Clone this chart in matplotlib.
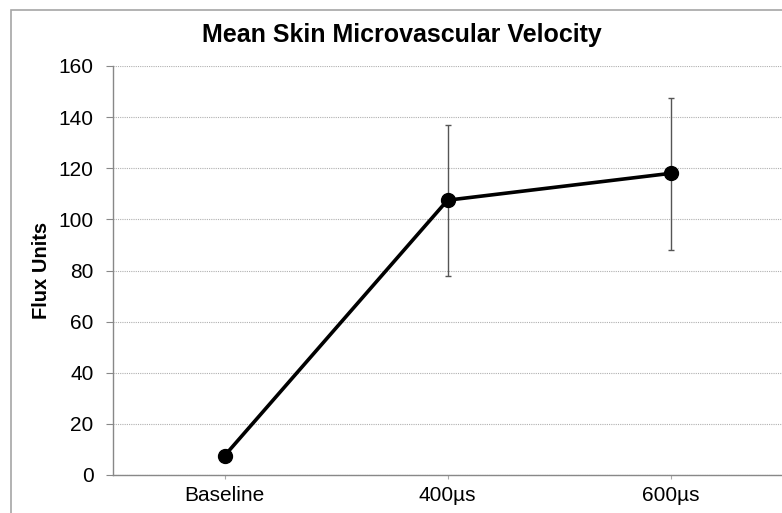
import numpy as np
import matplotlib
matplotlib.use("Agg")
import matplotlib.pyplot as plt
from matplotlib.patches import Rectangle

# data
categories = ["Baseline", "400µs", "600µs"]
flux = [7.5, 107.5, 118.0]
err_low = [0.0, 29.5, 29.8]
err_high = [0.0, 29.5, 29.5]
yticks = [0, 20, 40, 60, 80, 100, 120, 140, 160]

plt.rcParams["font.family"] = ["Liberation Sans", "DejaVu Sans"]

fig = plt.figure(figsize=(7.82, 5.13), dpi=100)
# outer chart frame (cropped on right and bottom)
fig.patches.append(Rectangle((11 / 782, -0.1), 1.2, 1 - 10 / 513 + 0.1,
                             transform=fig.transFigure, fill=False,
                             edgecolor="#a6a6a6", linewidth=1.2))

ax = fig.add_axes([113 / 782, 1 - 475 / 513, 1 - 113 / 782, (475 - 66) / 513])
x = np.arange(len(categories))

ax.errorbar(x, flux, yerr=[err_low, err_high], fmt="none", ecolor="#555555",
            elinewidth=1.0, capsize=2.5, capthick=1.0, zorder=2)
ax.plot(x, flux, color="black", linewidth=2.6, marker="o", markersize=10,
        zorder=3)

ax.set_xlim(-0.5, 2.5)
ax.set_ylim(0, 160)
ax.set_yticks(yticks)
ax.set_xticks(x)
ax.set_xticks([2.5], minor=True)
ax.set_xticklabels(categories)
ax.grid(axis="y", color="#b0b0b0", linestyle=(0, (1, 1)), linewidth=0.8)
ax.set_axisbelow(True)

for side in ["top", "right"]:
    ax.spines[side].set_visible(False)
for side in ["left", "bottom"]:
    ax.spines[side].set_color("#888888")
    ax.spines[side].set_linewidth(1.0)

ax.tick_params(axis="y", length=5, color="#888888", labelsize=15, pad=9)
ax.tick_params(axis="x", which="both", length=3, color="#aaaaaa",
               labelsize=15, pad=5)

ax.set_ylabel("Flux Units", fontsize=14.5, fontweight="bold", labelpad=5)
fig.text(402 / 782, 1 - 35 / 513, "Mean Skin Microvascular Velocity",
         ha="center", va="center", fontsize=18, fontweight="bold")

fig.savefig("out.png", dpi=100)
